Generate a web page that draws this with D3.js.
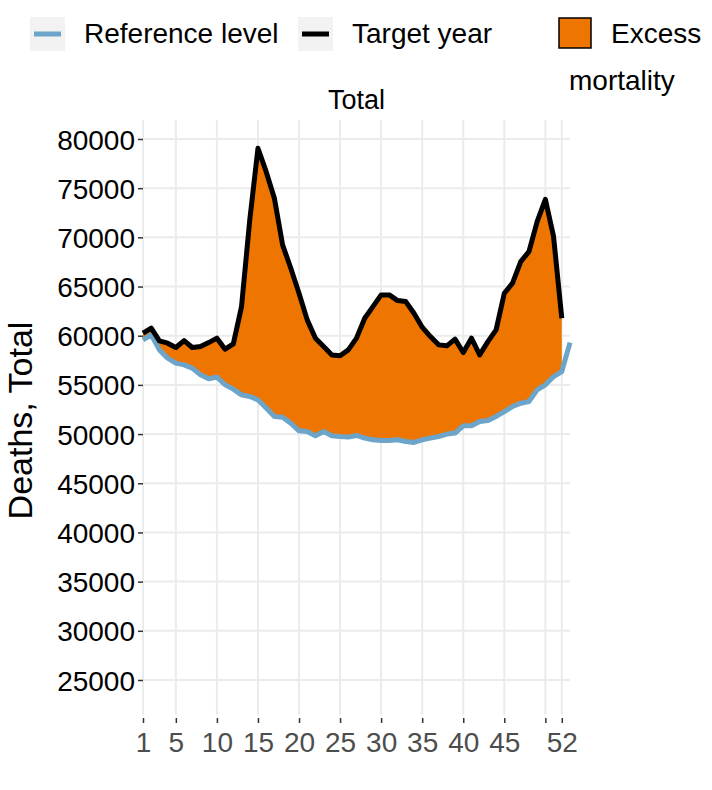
<!DOCTYPE html>
<html>
<head>
<meta charset="utf-8">
<script src="https://cdn.jsdelivr.net/npm/d3@7"></script>
<style>
  body { margin: 0; background: #fff; }
  text { font-family: "Liberation Sans", Arial, sans-serif; }
</style>
</head>
<body>
<div id="chart"></div>
<script>
// weekly deaths
var refWeeks = d3.range(1, 54);
var refDeaths = [59580, 60090, 58560, 57720, 57210, 57040, 56700, 56020, 55620, 55790,
  55010, 54570, 53990, 53820, 53480, 52640, 51790, 51720, 51110, 50330,
  50260, 49820, 50260, 49820, 49750, 49690, 49860, 49590, 49420, 49350,
  49350, 49420, 49250, 49150, 49420, 49590, 49750, 50000, 50100, 50840,
  50840, 51280, 51380, 51790, 52290, 52800, 53140, 53310, 54500, 55010,
  55850, 56360, 59300];
var targetWeeks = d3.range(1, 53);
var targetDeaths = [60260, 60770, 59480, 59240, 58800, 59510, 58800, 58900, 59300, 59750,
  58630, 59170, 62960, 71770, 79050, 76680, 73980, 69230, 66860, 64320,
  61610, 59750, 58900, 58050, 57970, 58560, 59750, 61780, 62960, 64150,
  64150, 63570, 63470, 62290, 60870, 59910, 59070, 58970, 59650, 58290,
  59750, 58050, 59400, 60590, 64320, 65340, 67540, 68550, 71600, 73870,
  70070, 61780];
var xBreaks = [1, 5, 10, 15, 20, 25, 30, 35, 40, 45, 50, 52];
var xLabels = ["1", "5", "10", "15", "20", "25", "30", "35", "40", "45", "", "52"];
var yBreaks = d3.range(25000, 80001, 5000);

var width = 712, height = 790;
var margin = {top: 120, right: 142, bottom: 75, left: 143};
var w = width - margin.left - margin.right;
var h = height - margin.top - margin.bottom;

var svg = d3.select("#chart").append("svg")
  .attr("width", width)
  .attr("height", height);

var x = d3.scaleLinear().domain([1, 53]).range([0, w]);
var y = d3.scaleLinear().domain([21440, 81930]).range([h, 0]);

var g = svg.append("g")
  .attr("transform", "translate(" + margin.left + "," + margin.top + ")");

// grid
g.selectAll(".hgrid").data(yBreaks).enter().append("line")
  .attr("x1", 0).attr("x2", w)
  .attr("y1", function(d){ return y(d); })
  .attr("y2", function(d){ return y(d); })
  .attr("stroke", "#ebebeb").attr("stroke-width", 2);
g.selectAll(".vgrid").data(xBreaks).enter().append("line")
  .attr("y1", 0).attr("y2", h)
  .attr("x1", function(d){ return x(d); })
  .attr("x2", function(d){ return x(d); })
  .attr("stroke", "#ebebeb").attr("stroke-width", 2);

// excess ribbon
var ribbon = targetWeeks.map(function(wk, i){
  return {wk: wk, lo: refDeaths[i], hi: targetDeaths[i]};
});
g.append("path")
  .datum(ribbon)
  .attr("fill", "#EE7600")
  .attr("d", d3.area()
    .x(function(d){ return x(d.wk); })
    .y0(function(d){ return y(d.lo); })
    .y1(function(d){ return y(d.hi); }));

var line = d3.line()
  .x(function(d){ return x(d[0]); })
  .y(function(d){ return y(d[1]); });

g.append("path")
  .datum(d3.zip(refWeeks, refDeaths))
  .attr("fill", "none")
  .attr("stroke", "#6ca4ca")
  .attr("stroke-width", 5)
  .attr("stroke-linejoin", "round")
  .attr("d", line);

g.append("path")
  .datum(d3.zip(targetWeeks, targetDeaths))
  .attr("fill", "none")
  .attr("stroke", "#000")
  .attr("stroke-width", 5)
  .attr("stroke-linejoin", "round")
  .attr("d", line);

// y axis
var yAxis = g.append("g")
  .call(d3.axisLeft(y).tickValues(yBreaks).tickSize(5).tickPadding(3).tickFormat(d3.format("d")));
yAxis.select(".domain").remove();
yAxis.selectAll(".tick line").attr("stroke", "#333").attr("stroke-width", 1.5);
yAxis.selectAll(".tick text").attr("fill", "#000").style("font-size", "28px")
  .attr("dy", "0.36em");

// x axis
var xAxis = g.append("g")
  .attr("transform", "translate(0," + (h + 3) + ")")
  .call(d3.axisBottom(x).tickValues(xBreaks).tickSize(5).tickPadding(9)
    .tickFormat(function(d, i){ return xLabels[i]; }));
xAxis.select(".domain").remove();
xAxis.selectAll(".tick line").attr("stroke", "#333").attr("stroke-width", 1.5);
xAxis.selectAll(".tick text").attr("fill", "#4d4d4d").style("font-size", "28px");

// titles
svg.append("text")
  .attr("x", margin.left + w / 2).attr("y", 109)
  .attr("text-anchor", "middle")
  .style("font-size", "27px")
  .text("Total");

svg.append("text")
  .attr("transform", "translate(32," + (margin.top + h / 2 + 3) + ") rotate(-90)")
  .attr("text-anchor", "middle")
  .style("font-size", "34px")
  .text("Deaths, Total");

// legend
var leg = svg.append("g");
leg.append("rect").attr("x", 30).attr("y", 17).attr("width", 35).attr("height", 34).attr("fill", "#f2f2f2");
leg.append("line").attr("x1", 34).attr("x2", 61).attr("y1", 34).attr("y2", 34)
  .attr("stroke", "#6ca4ca").attr("stroke-width", 5);
leg.append("text").attr("x", 84).attr("y", 43).style("font-size", "28px").text("Reference level");

leg.append("rect").attr("x", 298).attr("y", 17).attr("width", 35).attr("height", 34).attr("fill", "#f2f2f2");
leg.append("line").attr("x1", 302).attr("x2", 329).attr("y1", 34).attr("y2", 34)
  .attr("stroke", "#000").attr("stroke-width", 5);
leg.append("text").attr("x", 352).attr("y", 43).style("font-size", "28px").text("Target year");

leg.append("rect").attr("x", 559).attr("y", 18).attr("width", 32).attr("height", 30)
  .attr("fill", "#EE7600").attr("stroke", "#000").attr("stroke-width", 1.5);
leg.append("text").attr("x", 611).attr("y", 43).style("font-size", "28px").text("Excess");
leg.append("text").attr("x", 569).attr("y", 90).style("font-size", "28px").text("mortality");
</script>
</body>
</html>
